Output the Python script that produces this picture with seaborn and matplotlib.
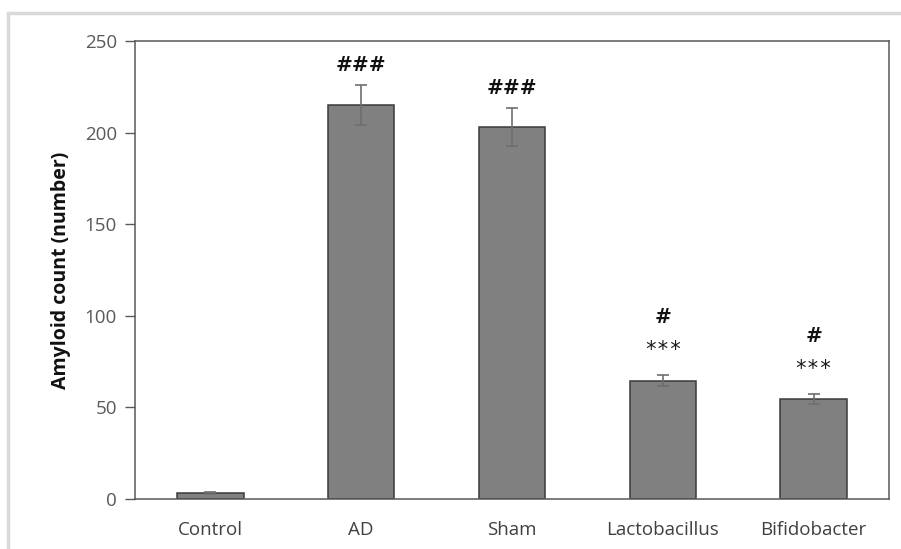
import numpy as np
import pandas as pd
import matplotlib
matplotlib.use("Agg")
import matplotlib.pyplot as plt
import seaborn as sns
from matplotlib.patches import Rectangle

# data
groups = ["Control", "AD", "Sham", "Lactobacillus", "Bifidobacter"]
counts = [3.3, 215, 203, 64.6, 54.6]
errors = [0.4, 11, 10.2, 3.0, 2.6]
hash_marks = ["", "###", "###", "#", "#"]
star_marks = ["", "", "", "***", "***"]

df = pd.DataFrame({"group": groups, "count": counts, "err": errors})

sns.set_style("white")
plt.rcParams["font.family"] = ["Open Sans", "DejaVu Sans"]

fig = plt.figure(figsize=(9.01, 5.49), dpi=100)
ax = fig.add_axes([135 / 901, 1 - 499 / 549, (889 - 135) / 901, (499 - 41) / 549])

# light border round the figure, as in the source
fig.patches.append(Rectangle((8 / 901, -0.05), 1.1, 1 - 13 / 549 + 0.05,
                             transform=fig.transFigure, fill=False,
                             edgecolor="#d9d9d9", linewidth=2.5, zorder=0))

sns.barplot(data=df, x="group", y="count", color="#808080", saturation=1,
            edgecolor="#3a3a3a", linewidth=1.1, width=0.44, errorbar=None, ax=ax)

# error bars, drawn over the bars
ax.errorbar(np.arange(len(groups)), df["count"], yerr=df["err"], fmt="none",
            ecolor="#6e6e6e", elinewidth=1.2, capsize=4.5, capthick=1.2, zorder=5)

# significance marks
for i, (c, e, h, s) in enumerate(zip(counts, errors, hash_marks, star_marks)):
    top = c + e
    if s:
        ax.text(i, top + 14, s, ha="center", va="center", fontsize=15,
                family="DejaVu Sans Mono", color="#1a1a1a")
        ax.text(i, top + 32, h, ha="center", va="center", fontsize=14.5,
                family="DejaVu Serif", fontweight="semibold", color="#111111")
    elif h:
        ax.text(i, top + 11, h, ha="center", va="center", fontsize=14.5,
                family="DejaVu Serif", fontweight="semibold", color="#111111")

ax.set_ylim(0, 250)
ax.set_xlim(-0.5, len(groups) - 0.5)
ax.set_yticks([0, 50, 100, 150, 200, 250])
ax.set_xlabel("")
ax.set_ylabel("Amyloid count (number)", fontsize=14, fontweight="bold",
              color="#111111", labelpad=10)
ax.tick_params(axis="y", left=True, length=7, width=1, color="#595959",
               labelsize=13.5, labelcolor="#595959", pad=6)
ax.tick_params(axis="x", bottom=False, labelsize=13.5, labelcolor="#404040", pad=12)
for sp in ax.spines.values():
    sp.set_visible(True)
    sp.set_color("#595959")
    sp.set_linewidth(1.1)

fig.savefig("out.png", dpi=100)
